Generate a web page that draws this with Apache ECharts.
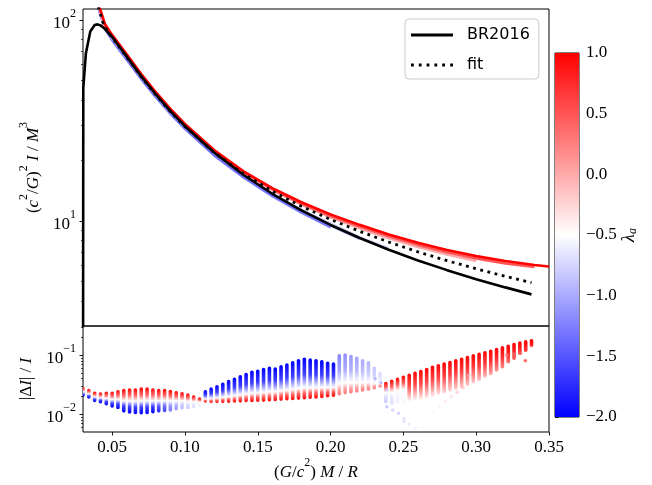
<!DOCTYPE html>
<html>
<head>
<meta charset="utf-8">
<script src="https://cdn.jsdelivr.net/npm/echarts@6/dist/echarts.min.js"></script>
<style>
html,body{margin:0;padding:0;background:#fff;}
#chart{width:652px;height:485px;}
</style>
</head>
<body>
<div id="chart"></div>
<script>
// ---- moment of inertia family, one curve per lambda_a ----
const famC = [0.038, 0.041, 0.045, 0.05, 0.055, 0.06, 0.07, 0.08, 0.09, 0.10, 0.12, 0.14, 0.16, 0.18, 0.20, 0.22, 0.24, 0.26, 0.28, 0.30, 0.32, 0.34, 0.35];
const famLam = [-2, -1.5, -1, -0.5, 0, 0.5, 1];
const famM20 = [136, 112, 90.5, 79.4, 71.0, 63.5, 50.8, 41.3, 34.15, 28.75, 21.2, 16.5, 13.3, 11.0, 9.28];
const famM15 = [137, 113, 91.3, 80.2, 71.8, 64.2, 51.4, 41.8, 34.55, 29.1, 21.45, 16.7, 13.5, 11.2, 9.48, 8.15];
const famM10 = [138, 114, 92.2, 81.0, 72.6, 64.9, 51.9, 42.2, 34.9, 29.4, 21.75, 16.95, 13.75, 11.45, 9.72, 8.3, 7.3];
const famM05 = [139, 115, 93.0, 81.9, 73.4, 65.6, 52.4, 42.6, 35.25, 29.7, 22.0, 17.2, 14.0, 11.75, 10.05, 8.78, 7.78, 6.98];
const famP00 = [140, 116, 93.8, 82.6, 74.0, 66.2, 52.9, 43.0, 35.55, 29.95, 22.2, 17.38, 14.25, 12.05, 10.42, 9.2, 8.2, 7.42, 6.8, 6.32];
const famP05 = [141, 117, 94.6, 83.3, 74.6, 66.8, 53.3, 43.3, 35.8, 30.15, 22.35, 17.52, 14.38, 12.2, 10.58, 9.38, 8.38, 7.6, 6.98, 6.5, 6.15, 5.9];
const famP10 = [142, 118, 95.5, 84.3, 75.5, 67.5, 53.8, 43.7, 36.1, 30.4, 22.55, 17.7, 14.55, 12.38, 10.78, 9.56, 8.56, 7.78, 7.16, 6.68, 6.32, 6.03, 5.93];

// ---- BR2016 relation ----
const brC = [0.03005, 0.0302, 0.032, 0.035, 0.038, 0.040, 0.042, 0.045, 0.050, 0.055, 0.060, 0.070, 0.080, 0.090, 0.100, 0.120, 0.140, 0.160, 0.180, 0.200, 0.220, 0.240, 0.260, 0.280, 0.300, 0.320, 0.338];
const brI = [2.0, 46, 68.4, 87.7, 94.5, 95.1, 94.0, 90.4, 82.2, 73.6, 65.7, 52.4, 42.6, 35.2, 29.6, 21.9, 16.98, 13.65, 11.29, 9.55, 8.22, 7.19, 6.36, 5.69, 5.13, 4.67, 4.31];

// ---- fitted relation ----
const fitC = [0.038, 0.041, 0.044, 0.047, 0.050, 0.055, 0.060, 0.070, 0.080, 0.090, 0.100, 0.120, 0.140, 0.160, 0.180, 0.200, 0.220, 0.240, 0.260, 0.280, 0.300, 0.320, 0.338];
const fitI = [137, 113, 96, 87.5, 81.8, 73.3, 65.4, 52.2, 42.4, 35.05, 29.5, 21.9, 17.2, 14.06, 11.83, 10.17, 8.88, 7.85, 7.02, 6.34, 5.78, 5.30, 4.93];

// ---- relative deviation, one column per compactness sample ----
const colC = [0.030,0.034,0.038,0.042,0.046,0.050,0.054,0.058,0.062,0.066,0.070,0.074,0.078,0.082,0.086,0.090,0.094,0.098,0.102,0.106,0.110,
  0.114,0.118,0.122,0.126,0.130,0.134,0.138,0.142,0.146,0.150,0.154,0.158,0.162,0.166,0.170,0.174,0.178,0.182,0.186,0.190,0.194,0.198,0.202,
  0.206,0.210,0.214,0.218,0.222,0.226,0.230,0.234,0.238,0.242,0.246,0.250,0.254,0.258,0.262,0.266,0.270,0.274,0.278,0.282,0.286,0.290,0.294,0.298,0.302,0.306,0.310,0.314,0.318,0.322,0.326,0.330,0.334,0.338];
// deviation of the lambda_a = 1 member
const errRed = [0.027,0.025,0.0226,0.022,0.0226,0.0226,0.024,0.025,0.0257,0.0257,0.0265,0.0265,0.0257,0.025,0.025,0.0241,0.023,0.0222,0.021,0.0195,0.018,
  0.0168,0.0165,0.0165,0.0165,0.0166,0.0167,0.0168,0.017,0.0171,0.0172,0.0173,0.0175,0.0177,0.018,0.0182,0.0184,0.0187,0.019,0.0193,0.0196,0.02,0.0205,0.021,
  0.0222,0.0232,0.024,0.0248,0.0257,0.0267,0.028,0.030,0.033,0.036,0.039,0.042,0.0455,0.049,0.0525,0.057,0.062,0.066,0.0705,0.075,0.080,0.085,0.091,0.097,0.103,0.109,0.116,0.124,0.133,0.141,0.150,0.159,0.167,0.174];
// deviation at the other end of each column, and the lambda_a found there
const errFar = [0.021,0.0195,0.017,0.0163,0.015,0.0138,0.013,0.0114,0.0109,0.0107,0.0106,0.0107,0.011,0.0114,0.0116,0.0118,0.0124,0.0128,0.013,0.0135,0.0142,
  0.024,0.0265,0.029,0.032,0.0355,0.039,0.043,0.047,0.051,0.053,0.057,0.060,0.058,0.0635,0.068,0.074,0.080,0.085,0.082,0.080,0.077,0.0725,0.0705,
  0.097,0.100,0.094,0.088,0.080,0.074,0.060,0.048,0.0163,0.0153,0.0163,0.0163,0.0174,0.018,0.0186,0.0198,0.021,0.0226,0.024,0.0257,0.0274,0.029,0.032,0.0355,0.039,0.0443,0.049,0.0558,0.0635,0.077,0.088,0.107,0.121,0.147];
const lamFar = [-2,-2,-2,-2,-2,-2,-2,-2,-2,-2,-2,-2,-2,-1.8,-1.6,-1.3,-1.1,-0.9,-0.8,-0.7,-0.6,
  -2,-2,-2,-2,-2,-2,-2,-2,-2,-2,-2,-2,-2,-2,-2,-2,-2,-2,-2,-2,-2,-2,-2,
  -1.8,-1.7,-1.6,-1.5,-1.4,-1.3,-1.1,-0.9,-0.8,-0.7,-0.6,-0.55,-0.5,-0.5,-0.45,-0.4,-0.4,-0.35,-0.3,-0.3,-0.25,-0.25,-0.2,-0.2,-0.15,-0.1,0,0.1,0.2,0.3,0.4,0.5,0.6,0.7];
// scattered single stars
const outC = [0.2307,0.2346,0.2387,0.2387,0.2426,0.2467,0.2505,0.2505,0.254,0.258,0.263,0.2667,0.2708,0.2747,0.2788,0.2828,0.2869,0.291,0.2949,0.321,0.3258,0.3304,0.3338];
const outErr = [0.040,0.034,0.0134,0.026,0.0118,0.0104,0.0085,0.0075,0.0068,0.0058,0.006,0.008,0.0111,0.0134,0.0163,0.0198,0.0235,0.028,0.045,0.10,0.104,0.107,0.080];
const outLam = [-1.0,-0.95,-0.9,-0.85,-0.8,-0.8,-0.7,-0.7,-0.65,-0.6,-0.55,-0.5,-0.45,-0.4,-0.35,-0.3,-0.2,-0.15,-0.05,0.3,0.35,0.4,0.6];

// ---- ticks ----
const xTicks = [0.05, 0.10, 0.15, 0.20, 0.25, 0.30, 0.35];
const topMajor = [10, 100];
const topMinor = [4, 5, 6, 7, 8, 9, 20, 30, 40, 50, 60, 70, 80, 90];
const botMajor = [0.01, 0.1];
const botMinor = [0.006, 0.007, 0.008, 0.009, 0.02, 0.03, 0.04, 0.05, 0.06, 0.07, 0.08, 0.09, 0.2, 0.3];

// blue-white-red map over lambda_a in [-2, 1]
function bwr(l) {
  const t = Math.max(0, Math.min(1, (l + 2) / 3));
  let r, g, b;
  if (t < 0.5) { r = g = Math.round(510 * t); b = 255; }
  else { r = 255; g = b = Math.round(510 * (1 - t)); }
  return 'rgb(' + r + ',' + g + ',' + b + ')';
}

const SERIF = 'Liberation Serif';
const rich = {
  t: {fontFamily: SERIF, fontSize: 17, color: '#000', lineHeight: 24, verticalAlign: 'bottom'},
  i: {fontFamily: SERIF, fontStyle: 'italic', fontSize: 17, color: '#000', lineHeight: 24, verticalAlign: 'bottom'},
  s: {fontFamily: SERIF, fontSize: 12, color: '#000', lineHeight: 13, verticalAlign: 'top'},
  L: {fontFamily: SERIF, fontStyle: 'italic', fontSize: 18, color: '#000', lineHeight: 18, verticalAlign: 'top'},
  u: {fontFamily: SERIF, fontStyle: 'italic', fontSize: 12, color: '#000', lineHeight: 10, verticalAlign: 'bottom'}
};
function powLabel(v) {
  const e = Math.round(Math.log10(v));
  return '{t|10}{s|' + (e < 0 ? '\u2212' + (-e) : e) + '}';
}

// legend keys: a solid stroke and a row of square dots
const solidKey = 'path://M0,0H42V2.8H0Z';
const dottedKey = 'path://M0,0h2.8v2.8h-2.8z M7.8,0h2.8v2.8h-2.8z M15.6,0h2.8v2.8h-2.8z M23.4,0h2.8v2.8h-2.8z M31.2,0h2.8v2.8h-2.8z M39.2,0h2.8v2.8h-2.8z';

const famVals = [famM20, famM15, famM10, famM05, famP00, famP05, famP10];
const famSeries = famLam.map((lam, j) => ({
  type: 'line', xAxisIndex: 0, yAxisIndex: 0, symbol: 'none', silent: true, z: 2,
  data: famVals[j].map((v, i) => [famC[i], v]),
  lineStyle: {color: bwr(lam), width: 2.6, opacity: lam < -0.5 ? 0.5 : 1}
}));

// colour stops along a column, from its far end (offset 0) to the lambda_a = 1 end
function stripeStops(lf, redTop) {
  if (lf < -0.5) {
    const w = redTop ? 0.5 : 0.72;
    return [
      {offset: 0, color: bwr(lf)},
      {offset: w * 0.55, color: bwr(lf + (-0.5 - lf) * 0.25)},
      {offset: w, color: '#ffffff'},
      {offset: w + (1 - w) * 0.45, color: bwr(0.4)},
      {offset: 1, color: bwr(1)}
    ];
  }
  return [
    {offset: 0, color: bwr(lf)},
    {offset: 0.55, color: bwr(lf + (1 - lf) * 0.7)},
    {offset: 1, color: bwr(1)}
  ];
}

function renderStripe(params, api) {
  const c = api.value(0), eF = api.value(1), eR = api.value(2), lf = api.value(3);
  const pR = api.coord([c, eR]);
  const pF = api.coord([c, eF]);
  const w = 3.6;
  const redTop = pR[1] <= pF[1];
  const y0 = Math.min(pR[1], pF[1]) - w / 2;
  const y1 = Math.max(pR[1], pF[1]) + w / 2;
  const grad = {type: 'linear', x: 0, y: redTop ? 1 : 0, x2: 0, y2: redTop ? 0 : 1, colorStops: stripeStops(lf, redTop)};
  const sparse = !redTop && lf > -2;
  return {
    type: 'rect',
    shape: {x: pR[0] - w / 2, y: y0, width: w, height: y1 - y0, r: w / 2},
    style: {fill: grad, opacity: sparse ? 0.55 : 1}
  };
}

function renderColorbar(params, api) {
  const p0 = api.coord([0, 1]);
  const p1 = api.coord([1, -2]);
  return {
    type: 'rect',
    shape: {x: p0[0], y: p0[1], width: p1[0] - p0[0], height: p1[1] - p0[1]},
    style: {fill: {type: 'linear', x: 0, y: 0, x2: 0, y2: 1, colorStops: [
      {offset: 0, color: bwr(1)}, {offset: 0.5, color: bwr(-0.5)}, {offset: 1, color: bwr(-2)}]}}
  };
}

const option = {
  animation: false,
  backgroundColor: '#fff',
  textStyle: {fontFamily: SERIF},
  grid: [
    {left: 83, top: 9, width: 466, height: 317, show: true, borderColor: '#000', borderWidth: 1, backgroundColor: 'transparent'},
    {left: 83, top: 326, width: 466, height: 106, show: true, borderColor: '#000', borderWidth: 1, backgroundColor: 'transparent'},
    {left: 555, top: 53, width: 24, height: 364, show: true, borderColor: '#000', borderWidth: 1, backgroundColor: 'transparent'}
  ],
  xAxis: [
    {gridIndex: 0, type: 'value', min: 0.03, max: 0.35, axisLine: {show: false}, axisTick: {show: false}, axisLabel: {show: false}, splitLine: {show: false}},
    {gridIndex: 1, type: 'value', min: 0.03, max: 0.35, axisLine: {show: false}, splitLine: {show: false},
      axisTick: {show: true, length: 3.5, customValues: xTicks, lineStyle: {color: '#000', width: 0.9}},
      axisLabel: {show: true, customValues: xTicks, margin: 7, fontFamily: SERIF, fontSize: 17, color: '#000', formatter: v => v.toFixed(2)},
      name: '{t|(}{i|G}{t|/}{i|c}{s|2}{t|) }{i|M}{t| / }{i|R}', nameLocation: 'middle', nameGap: 24,
      nameTextStyle: {rich: rich}},
    {gridIndex: 2, type: 'value', min: 0, max: 1, show: false}
  ],
  yAxis: [
    {gridIndex: 0, type: 'log', logBase: 10, min: 3.0, max: 113.4, axisLine: {show: false}, splitLine: {show: false},
      axisTick: {show: true, length: 3.5, customValues: topMajor, lineStyle: {color: '#000', width: 0.9}},
      axisLabel: {show: true, customValues: topMajor, margin: 7, formatter: powLabel, rich: rich},
      name: '{t|(}{i|c}{s|2}{t|/}{i|G}{t|)}{s|2}{t| }{i|I}{t| / }{i|M}{s|3}', nameLocation: 'middle', nameRotate: 90, nameGap: 36,
      nameTextStyle: {rich: rich}},
    {gridIndex: 0, type: 'log', logBase: 10, min: 3.0, max: 113.4, position: 'left', axisLine: {show: false}, splitLine: {show: false},
      axisTick: {show: true, length: 2, customValues: topMinor, lineStyle: {color: '#000', width: 0.7}}, axisLabel: {show: false}},
    {gridIndex: 1, type: 'log', logBase: 10, min: 0.005, max: 0.31, axisLine: {show: false}, splitLine: {show: false},
      axisTick: {show: true, length: 3.5, customValues: botMajor, lineStyle: {color: '#000', width: 0.9}},
      axisLabel: {show: true, customValues: botMajor, margin: 7, formatter: powLabel, rich: rich},
      name: '{t|\u007C\u0394}{i|I}{t|\u007C / }{i|I}', nameLocation: 'middle', nameRotate: 90, nameGap: 36,
      nameTextStyle: {rich: rich}},
    {gridIndex: 1, type: 'log', logBase: 10, min: 0.005, max: 0.31, position: 'left', axisLine: {show: false}, splitLine: {show: false},
      axisTick: {show: true, length: 2, customValues: botMinor, lineStyle: {color: '#000', width: 0.7}}, axisLabel: {show: false}},
    {gridIndex: 2, type: 'value', min: -2, max: 1, interval: 0.5, position: 'right', axisLine: {show: false}, splitLine: {show: false},
      axisTick: {show: true, length: 3.5, lineStyle: {color: '#000', width: 0.9}},
      axisLabel: {show: true, margin: 7, fontFamily: SERIF, fontSize: 17, color: '#000',
        formatter: v => (v < 0 ? '\u2212' : '') + Math.abs(v).toFixed(1)},
      name: '{L|\u03BB}{u|a}', nameLocation: 'middle', nameRotate: 90, nameGap: 40,
      nameTextStyle: {rich: rich}}
  ],
  legend: {
    show: true,
    data: [{name: 'BR2016', icon: solidKey}, {name: 'fit', icon: dottedKey}],
    orient: 'vertical', left: 405, top: 19, symbolKeepAspect: true,
    itemWidth: 42, itemHeight: 14, itemGap: 14, padding: [8, 9, 6, 6],
    backgroundColor: 'rgba(255,255,255,0.8)', borderColor: '#cccccc', borderWidth: 1, borderRadius: 4,
    selectedMode: false,
    itemStyle: {color: '#000', borderWidth: 0},
    textStyle: {fontFamily: 'DejaVu Sans', fontSize: 16, color: '#000', padding: [0, 0, 0, 9]}
  },
  series: famSeries.concat([
    {name: 'BR2016', type: 'line', xAxisIndex: 0, yAxisIndex: 0, symbol: 'none', silent: true, z: 4,
      data: brI.map((v, i) => [brC[i], v]), lineStyle: {color: '#000', width: 2.6}, itemStyle: {color: '#000'}},
    {name: 'fit', type: 'line', xAxisIndex: 0, yAxisIndex: 0, symbol: 'none', silent: true, z: 5,
      data: fitI.map((v, i) => [fitC[i], v]), lineStyle: {color: '#000', width: 2.8, type: [2.8, 4.6], cap: 'butt'}, itemStyle: {color: '#000'}},
    {type: 'custom', xAxisIndex: 1, yAxisIndex: 2, clip: true, silent: true, z: 2,
      renderItem: renderStripe,
      data: colC.map((c, i) => [c, errFar[i], errRed[i], lamFar[i]])},
    {type: 'scatter', xAxisIndex: 1, yAxisIndex: 2, symbolSize: 3.4, silent: true, z: 3,
      data: outC.map((c, i) => [c, outErr[i], outLam[i]]),
      itemStyle: {color: p => bwr(p.value[2]), opacity: 0.8}},
    {type: 'custom', xAxisIndex: 2, yAxisIndex: 4, silent: true, z: 1,
      renderItem: renderColorbar, data: [[0, -2]]}
  ])
};

const chart = echarts.init(document.getElementById('chart'), null, {renderer: 'canvas'});
chart.setOption(option);
</script>
</body>
</html>
